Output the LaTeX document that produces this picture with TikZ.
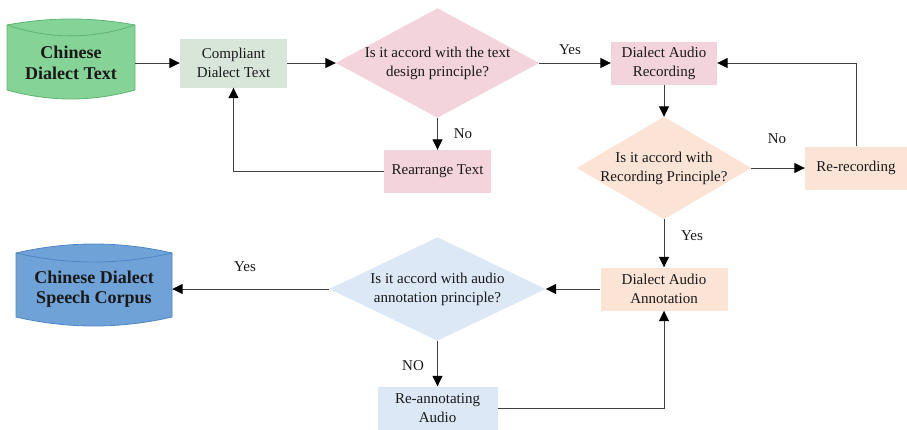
\documentclass[tikz,border=0pt]{standalone}
\usepackage{fontspec}
\setmainfont{Liberation Serif}
\usetikzlibrary{arrows.meta,backgrounds,calc}
\definecolor{lnc}{HTML}{404040}
\definecolor{greenbox}{HTML}{D8E6DA}
\definecolor{pinkc}{HTML}{F3D4DD}
\definecolor{peachc}{HTML}{FBE3D6}
\definecolor{bluec}{HTML}{DCE8F6}
\definecolor{cylg}{HTML}{85D397}
\definecolor{cylgd}{HTML}{5EB570}
\definecolor{cylb}{HTML}{6FA2D6}
\definecolor{cylbd}{HTML}{4F86C6}
\begin{document}
\begin{tikzpicture}[x=1pt,y=-1pt,
  txt/.style={font=\fontsize{15}{19}\selectfont, align=center, text=black!90},
  stepbox/.style={txt, rectangle, inner sep=0pt},
  cyltxt/.style={font=\fontsize{18}{20.5}\selectfont\bfseries, align=center, text=black!90, inner sep=0pt},
  lbl/.style={txt, inner sep=0pt},
  arr/.style={draw=lnc, line width=1pt, -{Triangle[length=10.5pt,width=10pt,color=black]}}]
\useasboundingbox (0,0) rectangle (907,429);

% nodes
\node[cyltxt, minimum width=128pt] (c1) at (71,63) {Chinese\\Dialect Text};
\node[stepbox, fill=greenbox, minimum width=107pt, minimum height=49pt] (cdt) at (233.5,63) {Compliant\\Dialect Text};
\node[stepbox, minimum width=203pt, minimum height=109pt] (d1) at (437.5,63) {Is it accord with the text\\design principle?};
\node[stepbox, fill=pinkc, minimum width=107pt, minimum height=43pt] (rt) at (437.5,171.5) {Rearrange Text};
\node[stepbox, fill=pinkc, minimum width=106pt, minimum height=43pt] (dar) at (664,63) {Dialect Audio\\Recording};
\node[stepbox, minimum width=174pt, minimum height=102pt] (d2) at (664,168) {Is it accord with\\Recording Principle?};
\node[stepbox, fill=peachc, minimum width=102pt, minimum height=43pt] (rr) at (856,168) {Re-recording};
\node[stepbox, fill=peachc, minimum width=127pt, minimum height=43pt] (daa) at (664,289) {Dialect Audio\\Annotation};
\node[stepbox, minimum width=216pt, minimum height=103pt] (d3) at (437.5,289) {Is it accord with audio\\annotation principle?};
\node[stepbox, fill=bluec, minimum width=120pt, minimum height=43pt] (ra) at (437.5,408) {Re-annotating\\Audio};
\node[cyltxt, minimum width=156pt] (c2) at (94,289) {Chinese Dialect\\Speech Corpus};

% labels
\node[lbl] (l1) at (570,50) {Yes};
\node[lbl] (l2) at (463,134) {No};
\node[lbl] (l3) at (777,139) {No};
\node[lbl] (l4) at (692,236) {Yes};
\node[lbl] (l5) at (245,267) {Yes};
\node[lbl] (l6) at (413,366) {NO};

% background shapes
\begin{scope}[on background layer]
  \fill[pinkc] (d1.north) -- (d1.east) -- (d1.south) -- (d1.west) -- cycle;
  \fill[peachc] (d2.north) -- (d2.east) -- (d2.south) -- (d2.west) -- cycle;
  \fill[bluec] (d3.north) -- (d3.east) -- (d3.south) -- (d3.west) -- cycle;
  % cylinder 1
  \fill[cylg] (7,25) .. controls (50,17) and (92,17) .. (135,25) -- (135,90)
     .. controls (92,102) and (50,102) .. (7,90) -- cycle;
  \draw[cylgd, line width=0.8pt] (7,25) .. controls (50,17) and (92,17) .. (135,25) -- (135,90)
     .. controls (92,102) and (50,102) .. (7,90) -- cycle;
  \draw[cylgd, line width=0.8pt] (7,25) .. controls (50,39.5) and (92,39.5) .. (135,25);
  % cylinder 2
  \fill[cylb] (16,253) .. controls (68,241) and (120,241) .. (172,253) -- (172,317)
     .. controls (120,329) and (68,329) .. (16,317) -- cycle;
  \draw[cylbd, line width=0.8pt] (16,253) .. controls (68,241) and (120,241) .. (172,253) -- (172,317)
     .. controls (120,329) and (68,329) .. (16,317) -- cycle;
  \draw[cylbd, line width=0.8pt] (16,253) .. controls (68,265) and (120,265) .. (172,253);
\end{scope}

% connectors
\draw[arr] (c1.east) -- (cdt.west);
\draw[arr] (cdt.east) -- (d1.west);
\draw[arr] (d1.east) -- (dar.west);
\draw[arr] (d1.south) -- (rt.north);
\draw[arr] (rt.west) -| (cdt.south);
\draw[arr] (dar.south) -- (d2.north);
\draw[arr] (d2.east) -- (rr.west);
\draw[arr] (rr.north) |- (dar.east);
\draw[arr] (d2.south) -- (daa.north);
\draw[arr] (daa.west) -- (d3.east);
\draw[arr] (d3.west) -- (c2.east);
\draw[arr] (d3.south) -- (ra.north);
\draw[arr] (ra.east) -| (daa.south);
\end{tikzpicture}
\end{document}
